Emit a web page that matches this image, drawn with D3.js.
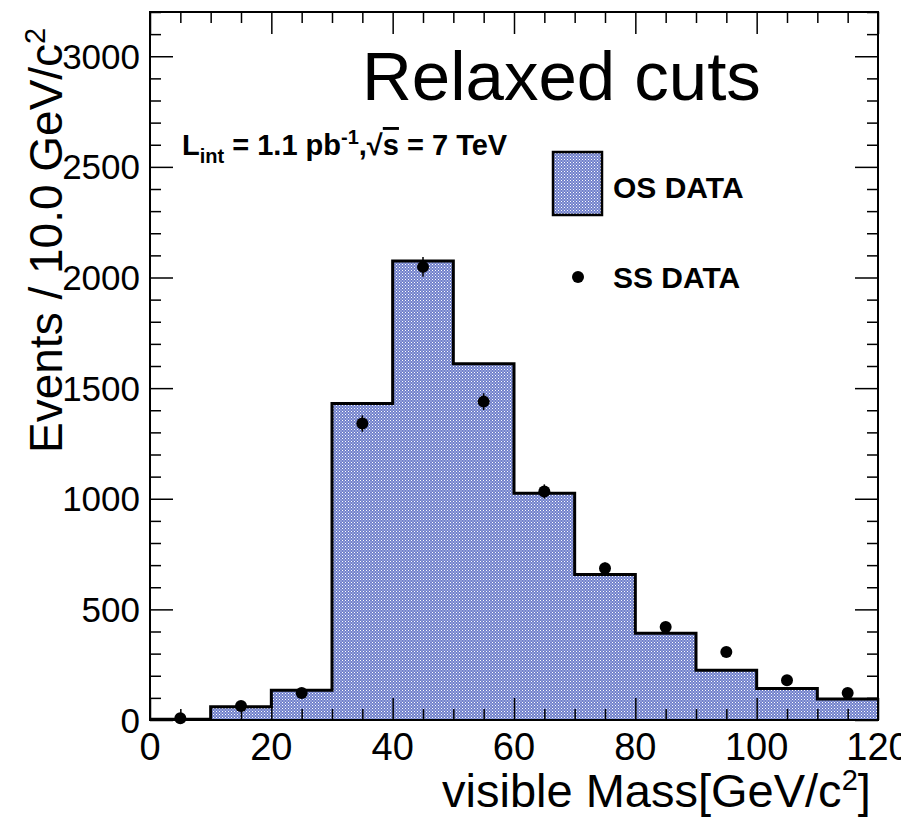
<!DOCTYPE html>
<html>
<head>
<meta charset="utf-8">
<script src="https://cdn.jsdelivr.net/npm/d3@7"></script>
<style>
	body { margin: 0; background: #fff; }
	svg { display: block; font-family: "Liberation Sans", Arial, sans-serif; }
</style>
</head>
<body>
<svg id="graph" width="922" height="817"></svg>
<script>
// bin edges (GeV/c^2), 10 GeV bins
var binLow = [0, 10, 20, 30, 40, 50, 60, 70, 80, 90, 100, 110],
	binWidth = 10;
// opposite sign histogram
var osData = [3, 60, 135, 1430, 2075, 1610, 1025, 658, 392, 225, 142, 95];
// same sign points and their errors
var ssData = [8, 63, 122, 1340, 2048, 1439, 1033, 686, 420, 307, 180, 122],
	ssErr = [3, 8, 11, 37, 45, 38, 32, 26, 20, 18, 13, 11];
var xTicks = [0, 20, 40, 60, 80, 100, 120],
	yTicks = [0, 500, 1000, 1500, 2000, 2500, 3000];

var frame = {left: 150, right: 878, top: 12, bottom: 720},
	svg = d3.select("#graph");

var x = d3.scaleLinear().domain([0, 120]).range([frame.left, frame.right]),
	y = d3.scaleLinear().domain([0, 3200]).range([frame.bottom, frame.top]);

// dotted blue fill like ROOT's pattern
var defs = svg.append("defs");
var pat = defs.append("pattern")
	.attr("id", "dots")
	.attr("patternUnits", "userSpaceOnUse")
	.attr("width", 3).attr("height", 3);
pat.append("rect").attr("width", 3).attr("height", 3).attr("fill", "#7080cb");
pat.append("rect").attr("width", 1).attr("height", 1).attr("fill", "#fff");
pat.append("rect").attr("x", 1.5).attr("y", 1.5).attr("width", 1).attr("height", 1).attr("fill", "#e6e9f7");

// the original canvas cuts off the last x label
defs.append("clipPath").attr("id", "canvasClip")
	.append("rect").attr("x", 0).attr("y", 0).attr("width", 901).attr("height", 817);

// histogram as a step path
var steps = [];
binLow.forEach(function(b, i) {
	steps.push([b, osData[i]]);
	steps.push([b + binWidth, osData[i]]);
});
var area = d3.area()
	.x(function(d) { return x(d[0]); })
	.y0(y(0))
	.y1(function(d) { return y(d[1]); });
var line = d3.line()
	.x(function(d) { return x(d[0]); })
	.y(function(d) { return y(d[1]); });

svg.append("path").datum(steps)
	.attr("d", area)
	.attr("fill", "url(#dots)");
svg.append("path").datum(steps)
	.attr("d", line)
	.attr("fill", "none")
	.attr("stroke", "#000")
	.attr("stroke-width", 3);

// axes, ticks inside the frame
var xMinor = d3.range(0, 121, 5),
	yMinor = d3.range(0, 3201, 100);

var gx = svg.append("g").attr("transform", "translate(0," + frame.bottom + ")");
gx.call(d3.axisTop(x).tickValues(xMinor).tickSize(11).tickFormat(""));
gx.selectAll(".tick").filter(function(d) { return d % 20 === 0; })
	.select("line").attr("y2", -22);
var gxTop = svg.append("g").attr("transform", "translate(0," + frame.top + ")");
gxTop.call(d3.axisBottom(x).tickValues(xMinor).tickSize(11).tickFormat(""));
gxTop.selectAll(".tick").filter(function(d) { return d % 20 === 0; })
	.select("line").attr("y2", 22);

var gy = svg.append("g").attr("transform", "translate(" + frame.left + ",0)");
gy.call(d3.axisRight(y).tickValues(yMinor).tickSize(11).tickFormat(""));
gy.selectAll(".tick").filter(function(d) { return d % 500 === 0; })
	.select("line").attr("x2", 23);
var gyR = svg.append("g").attr("transform", "translate(" + frame.right + ",0)");
gyR.call(d3.axisLeft(y).tickValues(yMinor).tickSize(11).tickFormat(""));
gyR.selectAll(".tick").filter(function(d) { return d % 500 === 0; })
	.select("line").attr("x2", -23);

[gx, gxTop, gy, gyR].forEach(function(g) {
	g.select(".domain").remove();
	g.selectAll("line").attr("stroke", "#000").attr("stroke-width", 1.5);
});

svg.append("rect")
	.attr("x", frame.left).attr("y", frame.top)
	.attr("width", frame.right - frame.left).attr("height", frame.bottom - frame.top)
	.attr("fill", "none").attr("stroke", "#000").attr("stroke-width", 2);

// tick labels
svg.append("g").attr("clip-path", "url(#canvasClip)")
	.selectAll("text").data(xTicks).enter().append("text")
	.attr("x", function(d) { return x(d); })
	.attr("y", 760)
	.attr("text-anchor", "middle")
	.attr("font-size", 38)
	.text(function(d) { return d; });
svg.append("g").selectAll("text").data(yTicks).enter().append("text")
	.attr("x", 140)
	.attr("y", function(d) { return y(d); })
	.attr("dy", "0.36em")
	.attr("text-anchor", "end")
	.attr("font-size", 35)
	.text(function(d) { return d; });

// same sign points with error bars
var pts = svg.append("g");
binLow.forEach(function(b, i) {
	var cx = x(b + binWidth / 2);
	pts.append("line")
		.attr("x1", cx).attr("x2", cx)
		.attr("y1", Math.min(y(ssData[i] - ssErr[i]), y(0)))
		.attr("y2", y(ssData[i] + ssErr[i]))
		.attr("stroke", "#000").attr("stroke-width", 1.5);
	pts.append("circle")
		.attr("cx", cx).attr("cy", y(ssData[i]))
		.attr("r", 6).attr("fill", "#000");
});

// titles
svg.append("text")
	.attr("x", 442).attr("y", 807)
	.attr("font-size", 47)
	.html('visible Mass[GeV/c<tspan dy="-17" font-size="29">2</tspan><tspan dy="17">]</tspan>');
svg.append("text")
	.attr("transform", "translate(62,453) rotate(-90)")
	.attr("font-size", 46)
	.html('Events / 10.0 GeV/c<tspan dy="-17" font-size="29">2</tspan>');

svg.append("text")
	.attr("x", 362).attr("y", 100)
	.attr("font-size", 69)
	.text("Relaxed cuts");

svg.append("text")
	.attr("x", 182).attr("y", 155)
	.attr("font-size", 29).attr("font-weight", "bold")
	.html('L<tspan dy="8" font-size="20">int</tspan><tspan dy="-8"> = 1.1 pb</tspan>' +
		'<tspan dy="-11" font-size="20">-1</tspan><tspan dy="11">,√</tspan>' +
		'<tspan style="text-decoration: overline">s</tspan><tspan> = 7 TeV</tspan>');

// legend
svg.append("rect")
	.attr("x", 553).attr("y", 152).attr("width", 49).attr("height", 63)
	.attr("fill", "url(#dots)").attr("stroke", "#000").attr("stroke-width", 2.5);
svg.append("text")
	.attr("x", 613).attr("y", 198)
	.attr("font-size", 30).attr("font-weight", "bold")
	.text("OS DATA");
svg.append("circle").attr("cx", 578).attr("cy", 277).attr("r", 6).attr("fill", "#000");
svg.append("text")
	.attr("x", 613).attr("y", 288)
	.attr("font-size", 30).attr("font-weight", "bold")
	.text("SS DATA");
</script>
</body>
</html>
